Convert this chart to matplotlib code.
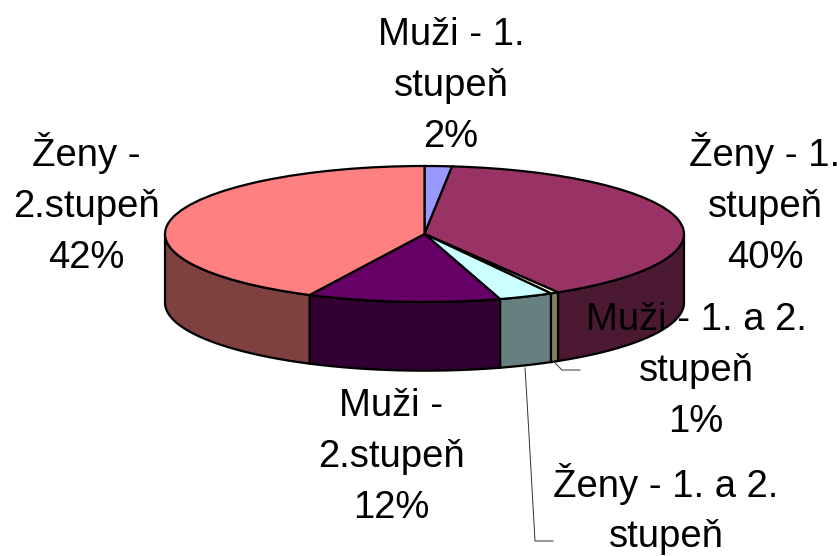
import math
import matplotlib
matplotlib.use("Agg")
import matplotlib.pyplot as plt
from matplotlib.patches import Polygon

plt.rcParams["font.family"] = ["Liberation Sans", "DejaVu Sans"]

# shares, the printed labels are rounded
names = ["Muži - 1.\nstupeň", "Ženy - 1.\nstupeň", "Muži - 1. a 2.\nstupeň",
         "Ženy - 1. a 2.\nstupeň", "Muži -\n2.stupeň", "Ženy -\n2.stupeň"]
values = [1.7, 39.7, 0.5, 3.4, 12.0, 42.7]
percents = ["2%", "40%", "1%", "", "12%", "42%"]
top_colors = ["#9999FF", "#993366", "#FFFFCC", "#CCFFFF", "#660066", "#FF8080"]
side_colors = ["#4D4D80", "#4C1933", "#7F7F66", "#667F7F", "#330033", "#7F4040"]

W, H = 840, 556
fig = plt.figure(figsize=(W / 100, H / 100), dpi=100)

# overlay in pixel coordinates for labels and leader lines
over = fig.add_axes([0, 0, 1, 1], zorder=3)
over.set_xlim(0, W)
over.set_ylim(H, 0)
over.axis("off")
over.patch.set_alpha(0)

ax = fig.add_axes([165 / W, 1 - 302 / H, 519 / W, 136 / H], zorder=1)
wedges, _ = ax.pie(values, colors=top_colors, startangle=90, counterclock=False,
                   wedgeprops={"edgecolor": "black", "linewidth": 1.6, "zorder": 5})
ax.set_aspect("auto")
ax.set_xlim(-1, 1)
ax.set_ylim(-1, 1)
for w in wedges:
    w.set_clip_on(False)

# side wall, only the front half of the rim can be seen
depth = 1.01
start = 0
total = sum(values)
for v, col in zip(values, side_colors):
    a = start / total * 360
    b = (start + v) / total * 360
    start += v
    a2, b2 = max(a, 90), min(b, 270)
    if b2 <= a2:
        continue
    n = max(int(b2 - a2) * 2, 2)
    angs = [math.radians(a2 + (b2 - a2) * i / n) for i in range(n + 1)]
    upper = [(math.sin(t), math.cos(t)) for t in angs]
    lower = [(math.sin(t), math.cos(t) - depth) for t in reversed(angs)]
    ax.add_patch(Polygon(upper + lower, closed=True, facecolor=col, edgecolor="black",
                         linewidth=1.6, zorder=2, clip_on=False))

# leader lines
over.plot([555, 562, 580], [363, 370, 370], color="#333333", lw=0.7)
over.plot([525, 527, 535, 553], [368, 400, 541, 541], color="#333333", lw=0.7)

# labels
label_x = [451, 765, 696, 666, 391, 86]
label_y = [86, 204, 371, 509, 457, 204]
for name, pct, x, y in zip(names, percents, label_x, label_y):
    txt = name + "\n" + pct if pct else name
    over.text(x, y, txt, ha="center", va="center", fontsize=27.5, linespacing=1.53,
              color="black")

fig.savefig("out.png", dpi=100)
